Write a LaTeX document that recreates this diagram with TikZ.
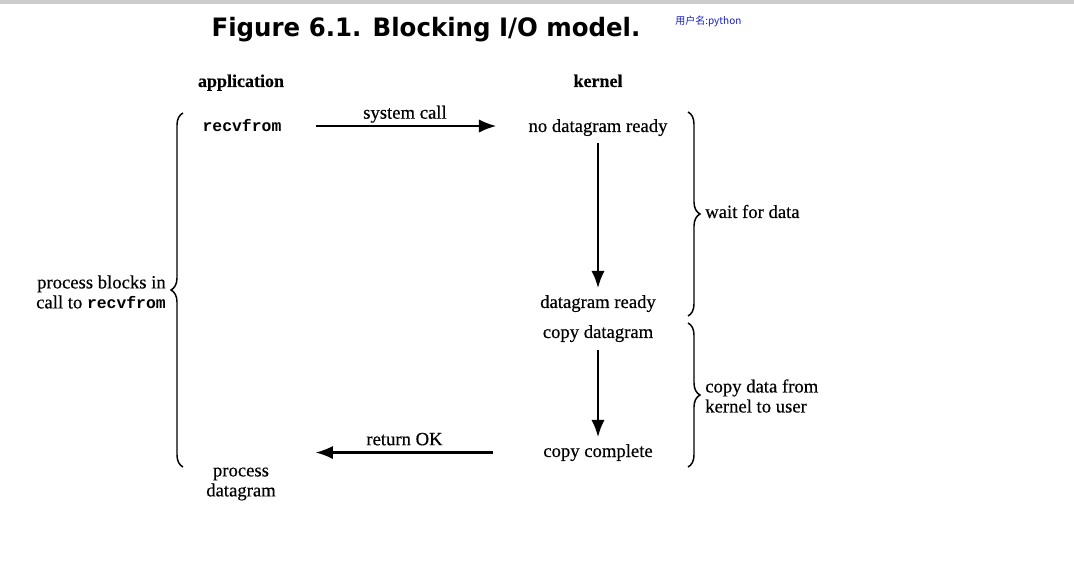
\documentclass[tikz,border=0pt]{standalone}
\usepackage{fontspec}
\setmainfont{Liberation Serif}[FakeBold=0.4]
\setmonofont{Liberation Mono}
\newfontfamily\titlefont[FakeStretch=0.965]{DejaVu Sans}
\newfontfamily\cjkfont{Noto Sans CJK SC}
\usetikzlibrary{arrows.meta,decorations.pathreplacing,positioning}

\definecolor{markblue}{RGB}{20,30,200}
\tikzset{
  txt/.style={inner sep=0pt, font=\fontsize{14}{15}\selectfont},
  head/.style={inner sep=0pt, font=\fontsize{13.5}{15}\selectfont\bfseries},
  lbl/.style={txt, anchor=base, yshift=5.5pt},
  flow/.style={-{Latex[length=13pt,width=10pt]}, line width=1.6pt},
  brc/.style={decorate, decoration={brace, amplitude=9pt}, line width=1.1pt},
}
\newcommand{\rf}{{\fontsize{12.3}{15}\selectfont\ttfamily\bfseries recvfrom}}

\begin{document}
\begin{tikzpicture}[x=0.75pt, y=-0.75pt]
\useasboundingbox (0,0) rectangle (1074,573);
\fill[gray!40] (0,0) rectangle (1074,4);

\node[inner sep=0pt, anchor=base, font=\titlefont\bfseries\fontsize{19}{22}\selectfont] (ttl) at (426,37) {Figure 6.1. Blocking I/O model.};
\node[inner sep=0pt, anchor=base west, text=markblue, font=\cjkfont\fontsize{7.5}{9}\selectfont] (mark) at (675,25) {用户名:python};

\node[head, anchor=base] (app) at (241,87) {application};
\node[head, anchor=base] (kern) at (598,87) {kernel};

\node[txt, anchor=base] (recv) at (242,132) {\rf};
\node[txt, anchor=base] (nodg) at (598,132) {no datagram ready};
\node[txt, anchor=base] (dgrdy) at (598,308) {datagram ready};
\node[txt, below=22.5pt of dgrdy.base, anchor=base] (cpdg) {copy datagram};
\node[txt, anchor=base] (cpdone) at (598,457) {copy complete};
\node[txt, align=center] (proc) at (241,484) {process\\datagram};

\node[txt, align=right, anchor=east] (blk) at (166,292) {process blocks in\\call to \rf};
\node[txt, anchor=base west] (wait) at (705,218) {wait for data};
\node[txt, align=left, anchor=west] (cpy) at (705,396) {copy data from\\kernel to user};

\draw[flow, shorten <=25.5pt, shorten >=24pt] (recv.east) -- node[lbl] {system call} (recv.east -| nodg.west);
\draw[flow, shorten <=5pt, shorten >=5pt] (nodg.south) -- (dgrdy.north);
\draw[flow, shorten <=6pt, shorten >=5pt] (cpdg.south) -- (cpdone.north);
\draw[flow, shorten <=37.5pt, shorten >=25.5pt] (cpdone.west) -- node[lbl, pos=0.53] {return OK} (cpdone.west -| recv.east);

\coordinate (lb0) at (183,467);
\coordinate (lb1) at (183,113);
\coordinate (rb0) at (688,112);
\coordinate (rb1) at (688,316);
\coordinate (rb2) at (688,323);
\coordinate (rb3) at (688,467);
\draw[brc] (lb0) -- (lb1);
\draw[brc] (rb0) -- (rb1);
\draw[brc] (rb2) -- (rb3);
\end{tikzpicture}
\end{document}
